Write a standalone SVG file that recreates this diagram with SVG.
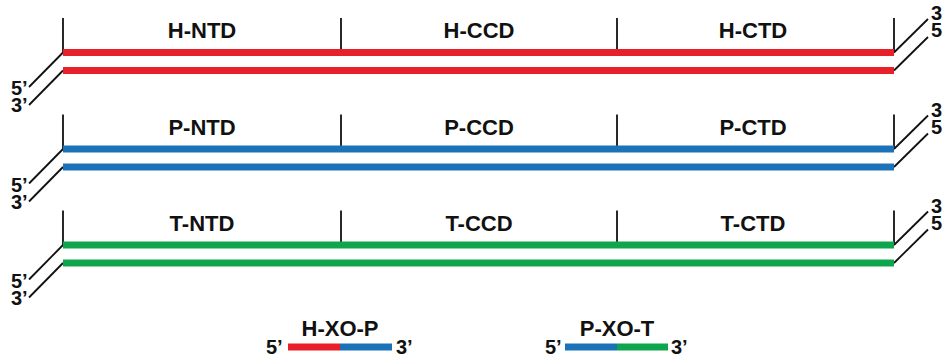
<svg xmlns="http://www.w3.org/2000/svg" width="943" height="362" viewBox="0 0 943 362">
<style>
.lbl{font-family:"Liberation Sans",Arial,sans-serif;font-weight:bold;font-size:22px;fill:#111;text-anchor:middle}
.end{font-family:"Liberation Sans",Arial,sans-serif;font-weight:bold;font-size:20px;fill:#111}
.k{stroke:#111;stroke-width:1.8;fill:none}
.r{stroke:#e8202a;stroke-width:7;fill:none}
.b{stroke:#1b72b8;stroke-width:7;fill:none}
.g{stroke:#0ea54c;stroke-width:7;fill:none}
</style>
<defs>
<g id="frame">
<line class="k" x1="63" y1="18" x2="63" y2="52.5"/>
<line class="k" x1="341" y1="18" x2="341" y2="52.5"/>
<line class="k" x1="617" y1="18" x2="617" y2="52.5"/>
<line class="k" x1="894" y1="18" x2="894" y2="52.5"/>
<line class="k" x1="63" y1="52.5" x2="29" y2="87"/>
<line class="k" x1="63" y1="70.5" x2="29" y2="105"/>
<line class="k" x1="894" y1="52.5" x2="928" y2="19"/>
<line class="k" x1="894" y1="70.5" x2="928" y2="37"/>
<text class="end" x="11" y="95">5’</text>
<text class="end" x="11" y="112">3’</text>
<text class="end" x="931" y="20">3</text>
<text class="end" x="931" y="37">5</text>
</g>
</defs>
<g id="H">
<use href="#frame"/>
<line class="r" x1="63" y1="52.5" x2="894" y2="52.5"/>
<line class="r" x1="63" y1="70.5" x2="894" y2="70.5"/>
<text class="lbl" x="202" y="38">H-NTD</text>
<text class="lbl" x="479" y="38">H-CCD</text>
<text class="lbl" x="753" y="38">H-CTD</text>
</g>
<g id="P" transform="translate(0,96.5)">
<use href="#frame"/>
<line class="b" x1="63" y1="52.5" x2="894" y2="52.5"/>
<line class="b" x1="63" y1="70.5" x2="894" y2="70.5"/>
<text class="lbl" x="202" y="38">P-NTD</text>
<text class="lbl" x="479" y="38">P-CCD</text>
<text class="lbl" x="753" y="38">P-CTD</text>
</g>
<g id="T" transform="translate(0,192.5)">
<use href="#frame"/>
<line class="g" x1="63" y1="52.5" x2="894" y2="52.5"/>
<line class="g" x1="63" y1="70.5" x2="894" y2="70.5"/>
<text class="lbl" x="202" y="38">T-NTD</text>
<text class="lbl" x="479" y="38">T-CCD</text>
<text class="lbl" x="753" y="38">T-CTD</text>
</g>
<g id="HXOP">
<text class="lbl" x="340" y="336">H-XO-P</text>
<line class="r" x1="288" y1="347" x2="340" y2="347"/>
<line class="b" x1="340" y1="347" x2="392" y2="347"/>
<text class="end" x="266" y="354">5’</text>
<text class="end" x="396" y="354">3’</text>
</g>
<g id="PXOT">
<text class="lbl" x="617" y="336">P-XO-T</text>
<line class="b" x1="565" y1="347" x2="617" y2="347"/>
<line class="g" x1="617" y1="347" x2="668" y2="347"/>
<text class="end" x="545" y="354">5’</text>
<text class="end" x="671" y="354">3’</text>
</g>
</svg>
